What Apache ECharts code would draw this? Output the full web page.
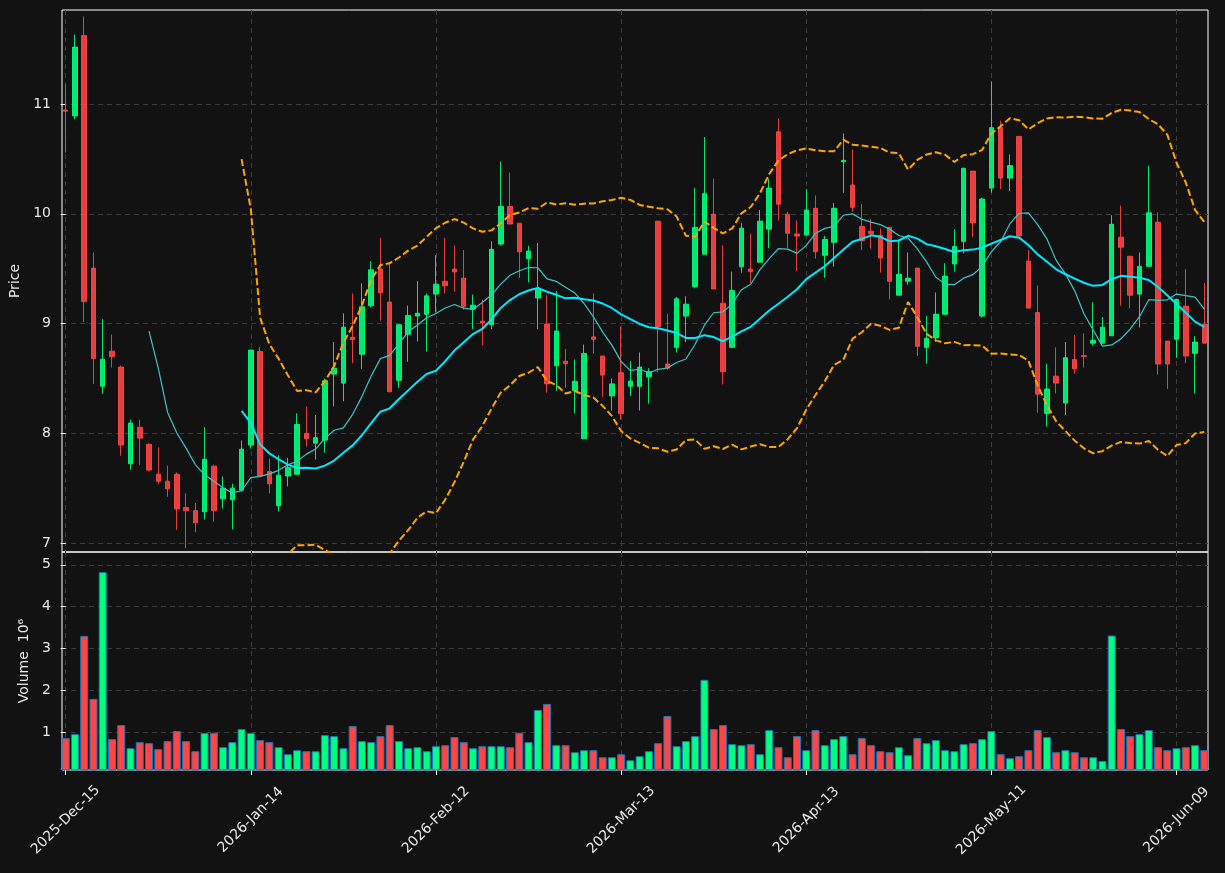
<!DOCTYPE html>
<html><head><meta charset="utf-8">
<script src="https://cdn.jsdelivr.net/npm/echarts@6/dist/echarts.min.js"></script>
<style>html,body{margin:0;padding:0;background:#121212;}#c{width:1225px;height:873px;}</style>
</head><body><div id="c"></div>
<script>
const dates = [
'2025-12-15','2025-12-16','2025-12-17','2025-12-18','2025-12-19','2025-12-22','2025-12-23','2025-12-24','2025-12-26','2025-12-29','2025-12-30','2025-12-31',
'2026-01-02','2026-01-05','2026-01-06','2026-01-07','2026-01-08','2026-01-09','2026-01-12','2026-01-13','2026-01-14','2026-01-15','2026-01-16','2026-01-20','2026-01-21','2026-01-22','2026-01-23','2026-01-26','2026-01-27','2026-01-28','2026-01-29','2026-01-30',
'2026-02-02','2026-02-03','2026-02-04','2026-02-05','2026-02-06','2026-02-09','2026-02-10','2026-02-11','2026-02-12','2026-02-13','2026-02-17','2026-02-18','2026-02-19','2026-02-20','2026-02-23','2026-02-24','2026-02-25','2026-02-26','2026-02-27',
'2026-03-02','2026-03-03','2026-03-04','2026-03-05','2026-03-06','2026-03-09','2026-03-10','2026-03-11','2026-03-12','2026-03-13','2026-03-16','2026-03-17','2026-03-18','2026-03-19','2026-03-20','2026-03-23','2026-03-24','2026-03-25','2026-03-26','2026-03-27','2026-03-30','2026-03-31',
'2026-04-01','2026-04-02','2026-04-06','2026-04-07','2026-04-08','2026-04-09','2026-04-10','2026-04-13','2026-04-14','2026-04-15','2026-04-16','2026-04-17','2026-04-20','2026-04-21','2026-04-22','2026-04-23','2026-04-24','2026-04-27','2026-04-28','2026-04-29','2026-04-30',
'2026-05-01','2026-05-04','2026-05-05','2026-05-06','2026-05-07','2026-05-08','2026-05-11','2026-05-12','2026-05-13','2026-05-14','2026-05-15','2026-05-18','2026-05-19','2026-05-20','2026-05-21','2026-05-22','2026-05-26','2026-05-27','2026-05-28','2026-05-29',
'2026-06-01','2026-06-02','2026-06-03','2026-06-04','2026-06-05','2026-06-08','2026-06-09','2026-06-10','2026-06-11','2026-06-12'
];
const opens = [
10.945,10.892,11.624,9.505,8.428,8.748,8.603,7.722,8.055,7.899,7.627,7.563,7.627,7.323,7.295,7.285,7.700,7.402,7.393,7.481,
7.893,8.745,7.652,7.339,7.611,7.627,7.998,7.909,7.937,8.539,8.457,8.875,8.720,9.163,9.496,9.195,8.482,8.903,9.068,9.084,
9.268,9.385,9.496,9.413,9.131,9.021,8.989,9.724,10.066,9.914,9.591,9.233,8.995,8.615,8.656,8.387,7.950,8.878,8.704,8.340,
8.552,8.428,8.428,8.514,9.933,8.631,8.783,9.068,9.337,9.632,9.996,9.185,8.783,9.518,9.496,9.559,9.860,10.747,9.996,9.816,
9.806,10.050,9.622,9.740,10.474,10.262,9.885,9.841,9.803,9.876,9.258,9.385,9.505,8.783,8.869,9.084,9.543,9.749,10.389,9.068,
10.234,10.785,10.325,10.705,9.569,9.100,8.181,8.520,8.276,8.672,8.707,8.821,8.821,8.888,9.787,9.613,9.268,9.521,9.923,8.840,
8.856,9.157,8.729,8.995
];
const highs = [
11.180,11.633,11.798,9.648,9.040,8.900,8.618,8.124,8.124,7.909,7.871,7.706,7.643,7.453,7.364,8.055,7.713,7.605,7.541,7.934,
8.760,8.789,7.770,7.801,7.776,8.181,8.245,8.166,8.498,8.831,9.093,9.274,9.366,9.569,9.781,9.559,8.990,9.163,9.385,9.274,
9.622,9.781,9.711,9.670,9.264,9.217,9.749,10.477,10.376,9.914,9.708,9.733,9.258,9.296,8.767,8.672,8.808,9.274,8.704,8.498,
8.973,8.656,8.736,8.593,9.933,9.090,9.242,9.248,10.234,10.699,10.319,9.711,9.473,9.917,9.819,10.034,10.319,10.867,10.018,9.939,
10.224,10.167,9.800,10.098,10.731,10.588,10.088,9.949,9.866,9.876,9.765,9.648,9.505,9.068,9.283,9.550,9.860,10.420,10.390,10.145,
11.206,10.848,10.541,10.705,9.670,9.347,8.634,8.783,8.831,8.894,8.910,9.195,9.059,9.987,10.075,9.613,9.648,10.439,10.012,8.840,
9.220,9.496,8.885,9.369
];
const lows = [
10.557,10.861,9.014,8.450,8.359,8.599,7.795,7.668,7.713,7.656,7.541,7.421,7.120,6.953,7.098,7.215,7.193,7.314,7.124,7.469,
7.860,7.600,7.453,7.288,7.516,7.621,7.880,7.760,7.823,8.245,8.292,8.641,8.587,9.147,9.027,8.378,8.413,8.651,8.837,8.745,
9.100,9.274,9.290,9.125,8.948,8.799,8.948,9.708,9.907,9.417,9.375,8.948,8.371,8.387,8.413,8.181,7.950,8.726,8.333,8.207,
8.125,8.340,8.207,8.270,8.555,8.577,8.736,8.831,9.321,9.632,9.315,8.445,8.780,9.464,9.369,9.559,9.686,9.939,9.686,9.480,
9.800,9.591,9.417,9.518,10.192,10.018,9.670,9.683,9.464,9.220,9.258,9.353,8.704,8.634,8.831,9.080,9.473,9.638,9.791,9.052,
10.192,10.224,10.208,9.790,9.141,8.187,8.061,8.362,8.165,8.545,8.599,8.799,8.820,8.888,9.163,9.138,8.964,9.520,8.536,8.403,
8.688,8.641,8.362,8.820
];
const closes = [
10.935,11.519,9.201,8.679,8.675,8.698,7.893,8.093,7.956,7.665,7.563,7.494,7.310,7.295,7.184,7.763,7.295,7.500,7.500,7.855,
8.758,7.611,7.539,7.618,7.687,8.080,7.950,7.960,8.479,8.593,8.967,8.853,9.153,9.489,9.280,8.378,8.989,9.074,9.093,9.252,
9.359,9.344,9.470,9.157,9.166,9.005,9.676,10.066,9.907,9.654,9.660,9.321,8.450,8.932,8.634,8.473,8.726,8.856,8.530,8.450,
8.179,8.476,8.603,8.561,8.973,8.593,9.226,9.176,9.876,10.183,9.315,8.561,9.302,9.869,9.473,9.933,10.234,10.088,9.822,9.797,
10.034,9.654,9.765,10.050,10.487,10.059,9.755,9.819,9.597,9.385,9.448,9.413,8.793,8.865,9.084,9.432,9.702,10.414,9.917,10.135,
10.785,10.325,10.439,9.797,9.141,8.356,8.403,8.457,8.688,8.587,8.698,8.846,8.967,9.904,9.695,9.258,9.521,10.009,8.631,8.631,
9.220,8.704,8.831,8.821
];
const volumes = [
0.856,0.952,3.300,1.794,4.824,0.832,1.168,0.615,0.760,0.735,0.591,0.784,1.024,0.784,0.543,0.976,0.984,0.639,0.760,1.072,
0.976,0.808,0.760,0.639,0.471,0.567,0.543,0.543,0.928,0.904,0.615,1.144,0.784,0.760,0.904,1.168,0.784,0.615,0.639,0.543,
0.663,0.687,0.880,0.760,0.615,0.663,0.663,0.663,0.639,0.984,0.760,1.529,1.673,0.687,0.687,0.519,0.567,0.567,0.399,0.399,
0.471,0.327,0.423,0.543,0.735,1.385,0.663,0.784,0.904,2.250,1.072,1.168,0.711,0.687,0.711,0.471,1.048,0.639,0.399,0.904,
0.567,1.048,0.687,0.832,0.904,0.471,0.856,0.687,0.543,0.519,0.639,0.447,0.856,0.735,0.808,0.567,0.543,0.711,0.735,0.832,
1.024,0.471,0.375,0.423,0.567,1.048,0.880,0.519,0.567,0.519,0.399,0.399,0.310,3.309,1.072,0.904,0.952,1.048,0.639,0.567,
0.615,0.639,0.687,0.567
];
const xTickIndex = [0,20,40,60,80,100,120];
const priceTicks = [7,8,9,10,11];
const volumeTicks = [1,2,3,4,5];

const UP = '#00ff80', DOWN = '#ff4545';
const LABEL = '#e8e8e8', GRID = '#3c3c3c', FRAME = '#ffffff';
const FONT = 'DejaVu Sans';
const MON = ['Jan','Feb','Mar','Apr','May','Jun','Jul','Aug','Sep','Oct','Nov','Dec'];
function fmtDate(s){ const p = s.split('-'); return p[0] + '-' + MON[+p[1]-1] + '-' + p[2]; }

const N = closes.length;
const candleData = [], volData = [], ma10 = [], ma20 = [], bbUp = [], bbLo = [];
for (let i = 0; i < N; i++) {
  candleData.push([i, opens[i], closes[i], lows[i], highs[i]]);
  volData.push({value: [i, volumes[i]], itemStyle: {color: closes[i] >= opens[i] ? UP : DOWN}});
  if (i >= 9) {
    let s = 0; for (let k = i - 9; k <= i; k++) s += closes[k];
    ma10.push([i, s / 10]);
  }
  if (i >= 19) {
    let s = 0; for (let k = i - 19; k <= i; k++) s += closes[k];
    const m = s / 20;
    let v = 0; for (let k = i - 19; k <= i; k++) v += (closes[k] - m) * (closes[k] - m);
    const sd = Math.sqrt(v / 20);
    ma20.push([i, m]); bbUp.push([i, m + 2 * sd]); bbLo.push([i, m - 2 * sd]);
  }
}

const dashGrid = {show: true, lineStyle: {color: GRID, type: [5, 4], width: 1}};
const chart = echarts.init(document.getElementById('c'), null, {renderer: 'canvas'});
chart.setOption({
  backgroundColor: '#121212',
  animation: false,
  grid: [
    {left: 62, top: 10, width: 1146, height: 542, show: true, borderColor: FRAME, borderWidth: 1, backgroundColor: 'transparent'},
    {left: 62, top: 552, width: 1146, height: 218, show: true, borderColor: FRAME, borderWidth: 1, backgroundColor: 'transparent'}
  ],
  xAxis: [
    {type: 'value', gridIndex: 0, min: -0.4, max: 123.4,
     axisLine: {show: false}, axisTick: {show: false, customValues: xTickIndex},
     axisLabel: {show: false, customValues: xTickIndex}, splitLine: dashGrid},
    {type: 'value', gridIndex: 1, min: -0.4, max: 123.4,
     axisLine: {show: false},
     axisTick: {show: true, customValues: xTickIndex, length: 5, lineStyle: {color: FRAME}},
     axisLabel: {customValues: xTickIndex, formatter: v => fmtDate(dates[Math.round(v)]),
       rotate: 45, align: 'center', verticalAlign: 'middle', margin: 50,
       color: LABEL, fontSize: 14, fontFamily: FONT},
     splitLine: dashGrid}
  ],
  yAxis: [
    {type: 'value', gridIndex: 0, min: 6.918, max: 11.857,
     name: 'Price', nameLocation: 'middle', nameGap: 37,
     nameTextStyle: {color: LABEL, fontSize: 14, fontFamily: FONT},
     axisLine: {show: false},
     axisTick: {show: true, customValues: priceTicks, length: 5, lineStyle: {color: FRAME}},
     axisLabel: {customValues: priceTicks, color: LABEL, fontSize: 14, fontFamily: FONT, margin: 11},
     splitLine: dashGrid},
    {type: 'value', gridIndex: 1, min: 0.094, max: 5.306,
     name: 'Volume  10\u2076', nameLocation: 'middle', nameGap: 30,
     nameTextStyle: {color: LABEL, fontSize: 14, fontFamily: FONT},
     axisLine: {show: false},
     axisTick: {show: true, customValues: volumeTicks, length: 5, lineStyle: {color: FRAME}},
     axisLabel: {customValues: volumeTicks, color: LABEL, fontSize: 14, fontFamily: FONT, margin: 11},
     splitLine: dashGrid}
  ],
  series: [
    {type: 'candlestick', xAxisIndex: 0, yAxisIndex: 0, data: candleData, barWidth: 5,
     encode: {x: 0, y: [1, 2, 3, 4]},
     itemStyle: {color: UP, color0: DOWN, borderColor: UP, borderColor0: DOWN, borderWidth: 1, opacity: 0.9}},
    {type: 'line', xAxisIndex: 0, yAxisIndex: 0, data: ma10, showSymbol: false, smooth: false,
     lineStyle: {color: '#3cc6c6', width: 1.2}, z: 3},
    {type: 'line', xAxisIndex: 0, yAxisIndex: 0, data: ma20, showSymbol: false,
     lineStyle: {color: '#00eaff', width: 2}, z: 3},
    {type: 'line', xAxisIndex: 0, yAxisIndex: 0, data: bbUp, showSymbol: false,
     lineStyle: {color: '#ffa500', width: 2, type: [7, 3]}, z: 3},
    {type: 'line', xAxisIndex: 0, yAxisIndex: 0, data: bbLo, showSymbol: false,
     lineStyle: {color: '#ffa500', width: 2, type: [7, 3]}, z: 3},
    {type: 'bar', xAxisIndex: 1, yAxisIndex: 1, data: volData, barWidth: 8,
     itemStyle: {borderColor: '#1f77b4', borderWidth: 1}}
  ]
});
</script></body></html>
